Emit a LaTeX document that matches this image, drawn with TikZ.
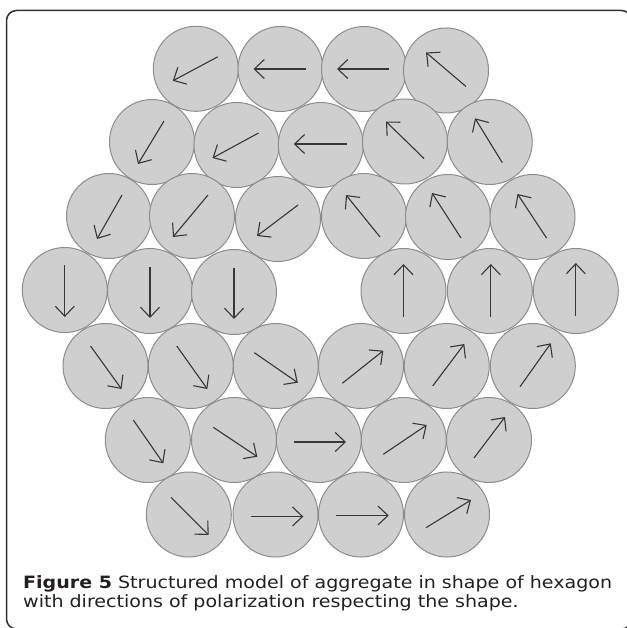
\documentclass[tikz,border=0pt]{standalone}
\usepackage{fontspec}
\setmainfont[FakeStretch=1.12]{DejaVu Sans}
\usetikzlibrary{arrows.meta}
\definecolor{cellfill}{RGB}{207,207,207}
\definecolor{celldraw}{RGB}{140,140,140}
\definecolor{arrowcol}{RGB}{55,55,55}
\definecolor{framecol}{RGB}{50,50,50}
\definecolor{textcol}{RGB}{35,31,32}
\tikzset{
  cell/.style={circle, draw=celldraw, fill=cellfill, line width=1pt, minimum size=85pt, inner sep=0pt},
  pol/.style={draw=arrowcol, line width=1.1pt, -{Straight Barb[length=10pt,width=19pt]}},
  frame/.style={draw=framecol, line width=1.5pt, rounded corners=10pt},
  captext/.style={anchor=base west, inner sep=0pt, text=textcol, font=\fontsize{17pt}{19pt}\selectfont}
}
\newcommand\cel[7]{%
  \node[cell] (#1) at (#2,#3) {};
  \draw[pol] ([shift={(#4,#5)}]#1.center) -- ([shift={(#6,#7)}]#1.center);}
\begin{document}
\begin{tikzpicture}[x=1pt,y=-1pt]
\useasboundingbox (0,0) rectangle (626,628);
\draw[frame] (6.5,10.5) rectangle (631.5,629);
% row 1
\cel{r1a}{195.8}{68.8}{22}{-12}{-23}{12}
\cel{r1b}{280.5}{69}{25}{0}{-27}{0}
\cel{r1c}{364}{69}{25}{0}{-27}{0}
\cel{r1d}{446}{70.5}{20}{16}{-20}{-18}
% row 2
\cel{r2a}{152}{142}{12}{-21}{-14}{22}
\cel{r2b}{236.5}{145}{22}{-12}{-24}{13}
\cel{r2c}{320.8}{145}{26}{-1}{-27}{-1}
\cel{r2d}{405}{141.5}{19}{17}{-19}{-20}
\cel{r2e}{489.7}{142}{12.6}{20.7}{-14.7}{-23.7}
% row 3
\cel{r3a}{109}{216}{13}{-21}{-12}{23}
\cel{r3b}{192}{216}{16}{-21}{-19}{21}
\cel{r3c}{278}{219}{20}{-14}{-21}{17}
\cel{r3d}{364}{216}{16}{21}{-18}{-21}
\cel{r3e}{448}{217}{13}{21}{-16}{-24}
\cel{r3f}{532.5}{217}{14}{21}{-15}{-23}
% row 4
\cel{r4a}{64.8}{290}{0}{-25}{0}{27}
\cel{r4b}{150}{291}{0}{-24}{0}{27}
\cel{r4c}{234}{292}{0}{-24}{0}{27}
\cel{r4d}{403.5}{291}{0}{26}{0}{-27}
\cel{r4e}{489.8}{291}{1}{26}{1}{-27}
\cel{r4f}{575.8}{291}{0}{25}{0}{-28}
% row 5
\cel{r5a}{105.5}{366}{-15}{-20}{16}{23}
\cel{r5b}{190.8}{366}{-14}{-20}{16.5}{23}
\cel{r5c}{275.8}{366}{-21.5}{-13.3}{22}{16.7}
\cel{r5d}{361}{366}{-18.7}{17.3}{22.3}{-15.3}
\cel{r5e}{446.7}{366}{-14}{20}{17.6}{-22}
\cel{r5f}{532.8}{366}{-12.8}{20.7}{18}{-22.7}
% row 6
\cel{r6a}{147.8}{440}{-14.5}{-20}{15.5}{23.3}
\cel{r6b}{234}{440}{-20.7}{-12.7}{23.3}{16.7}
\cel{r6c}{318.8}{440}{-24.8}{2}{27.2}{2}
\cel{r6d}{403.8}{440}{-20.5}{14.3}{22.9}{-15}
\cel{r6e}{489}{440}{-15}{18}{16}{-23}
% row 7
\cel{r7a}{188.8}{514.5}{-17.8}{-17.2}{19.9}{20.5}
\cel{r7b}{275.5}{514.5}{-24.8}{2}{27.8}{2}
\cel{r7c}{361}{514.5}{-25}{1}{27.7}{1}
\cel{r7d}{447}{514.5}{-21}{13.2}{24}{-14.5}
% caption
\node[captext] (cap1) at (23,588) {\textbf{Figure 5} Structured model of aggregate in shape of hexagon};
\node[captext] (cap2) at (23,607) {with directions of polarization respecting the shape.};
\end{tikzpicture}
\end{document}
